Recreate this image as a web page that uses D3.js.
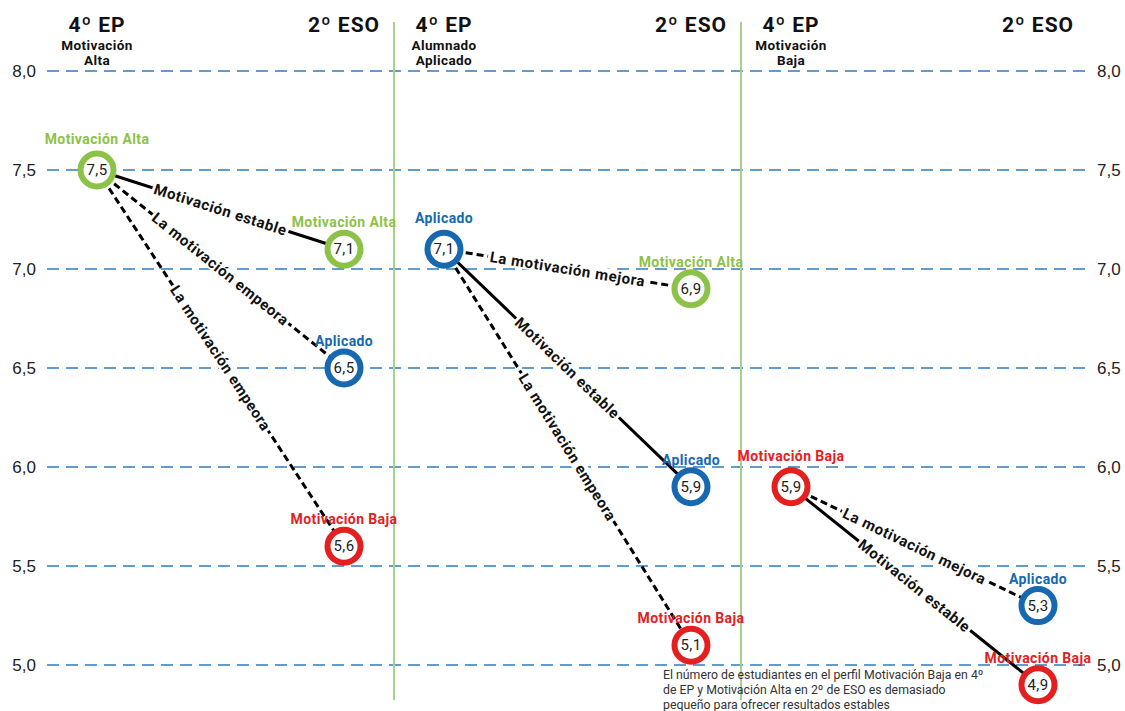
<!DOCTYPE html>
<html lang="es">
<head>
<meta charset="utf-8">
<script src="https://d3js.org/d3.v7.min.js"></script>
<style type="text/css">
body {
	margin: 0;
	background-color: #ffffff;
	font-family: Roboto, "Noto Sans", sans-serif;
}
.axis text {
	font-size: 17px;
	fill: #222;
}
.axis path, .axis line {
	display: none;
}
</style>
</head>
<body>
<script type="text/javascript">

// --- data ---
var stages = ["4º EP", "2º ESO"];
var panelTitles = [["Motivación", "Alta"], ["Alumnado", "Aplicado"], ["Motivación", "Baja"]];
var startProfiles = ["Motivación Alta", "Aplicado", "Motivación Baja"];
var startValues = [7.5, 7.1, 5.9];

var flowPanel = [0, 0, 0, 1, 1, 1, 2, 2];
var flowTo = ["Motivación Alta", "Aplicado", "Motivación Baja",
              "Motivación Alta", "Aplicado", "Motivación Baja",
              "Aplicado", "Motivación Baja"];
var flowValue = [7.1, 6.5, 5.6, 6.9, 5.9, 5.1, 5.3, 4.9];
var flowLabel = ["Motivación estable", "La motivación empeora", "La motivación empeora",
                 "La motivación mejora", "Motivación estable", "La motivación empeora",
                 "La motivación mejora", "Motivación estable"];
var flowStable = [true, false, false, false, true, false, false, true];

var yTicks = [5.0, 5.5, 6.0, 6.5, 7.0, 7.5, 8.0];

var footnote = ["El número de estudiantes en el perfil Motivación Baja en 4º",
                "de EP y Motivación Alta en 2º de ESO es demasiado",
                "pequeño para ofrecer resultados estables"];

var profileColor = {
	"Motivación Alta": "#8dc249",
	"Aplicado": "#1668b1",
	"Motivación Baja": "#e3201f"
};

var width = 1125, height = 711;

var svg = d3.select("body").append("svg")
	.attr("width", width)
	.attr("height", height);

// scales
var y = d3.scaleLinear().domain([5, 8]).range([665, 71]);
var panel = d3.scaleBand().domain([0, 1, 2]).range([47, 1088]);
var stage = d3.scalePoint().domain(stages).range([50, 297]);

function px(p, s) { return panel(p) + stage(s); }
var fmt = function(d) { return d3.format(".1f")(d).replace(".", ","); };

// gridlines
svg.append("g").selectAll("line")
	.data(yTicks)
	.enter().append("line")
	.attr("x1", 47).attr("x2", 1086)
	.attr("y1", d => y(d)).attr("y2", d => y(d))
	.style("stroke", "#2f7bbf")
	.style("stroke-width", 1.5)
	.style("stroke-dasharray", "12,7");

// axes
svg.append("g").attr("class", "axis")
	.attr("transform", "translate(40,0)")
	.call(d3.axisLeft(y).tickValues(yTicks).tickSize(0).tickPadding(4).tickFormat(fmt))
	.selectAll("text").attr("dy", "0.35em");
svg.append("g").attr("class", "axis")
	.attr("transform", "translate(1093,0)")
	.call(d3.axisRight(y).tickValues(yTicks).tickSize(0).tickPadding(4).tickFormat(fmt))
	.selectAll("text").attr("dy", "0.35em");

// panel dividers
svg.append("g").selectAll("line")
	.data([1, 2])
	.enter().append("line")
	.attr("x1", d => panel(d)).attr("x2", d => panel(d))
	.attr("y1", 22).attr("y2", 700)
	.style("stroke", "#a9d18e")
	.style("stroke-width", 2);

// headers
[0, 1, 2].forEach(function(p) {
	stages.forEach(function(s) {
		svg.append("text")
			.attr("x", px(p, s)).attr("y", 32)
			.attr("text-anchor", "middle")
			.style("font-size", "21px").style("font-weight", "bold")
			.style("letter-spacing", "1px")
			.style("fill", "#111")
			.text(s);
	});
	panelTitles[p].forEach(function(t, i) {
		svg.append("text")
			.attr("x", px(p, stages[0])).attr("y", 50 + i * 15)
			.attr("text-anchor", "middle")
			.style("font-size", "13.5px").style("font-weight", "bold")
			.style("letter-spacing", "0.4px")
			.style("fill", "#111")
			.text(t);
	});
});

// connections
var flows = flowValue.map(function(v, i) {
	return {p: flowPanel[i], to: flowTo[i], v: v, label: flowLabel[i], stable: flowStable[i]};
});

var links = svg.append("g");
flows.forEach(function(f) {
	var x1 = px(f.p, stages[0]), y1 = y(startValues[f.p]);
	var x2 = px(f.p, stages[1]), y2 = y(f.v);
	links.append("line")
		.attr("x1", x1).attr("y1", y1).attr("x2", x2).attr("y2", y2)
		.style("stroke", "#000")
		.style("stroke-width", 3)
		.style("stroke-dasharray", f.stable ? null : "7,4");

	var ang = Math.atan2(y2 - y1, x2 - x1) * 180 / Math.PI;
	var g = links.append("g")
		.attr("transform", "translate(" + ((x1 + x2) / 2) + "," + ((y1 + y2) / 2) + ") rotate(" + ang + ")");
	var bg = g.append("rect").style("fill", "#fff");
	var t = g.append("text")
		.attr("text-anchor", "middle")
		.attr("dy", "0.35em")
		.style("font-size", "15px").style("font-weight", "bold")
		.style("letter-spacing", "0.6px")
		.style("fill", "#111")
		.text(f.label);
	var len = t.node().getComputedTextLength();
	bg.attr("x", -len / 2 - 2).attr("y", -7).attr("width", len + 4).attr("height", 14);
});

// nodes
var nodes = [];
startProfiles.forEach(function(prof, p) {
	nodes.push({x: px(p, stages[0]), v: startValues[p], prof: prof, start: true});
});
flows.forEach(function(f) {
	nodes.push({x: px(f.p, stages[1]), v: f.v, prof: f.to, start: false});
});

var node = svg.append("g").selectAll("g")
	.data(nodes)
	.enter().append("g")
	.attr("transform", d => "translate(" + d.x + "," + y(d.v) + ")");

node.append("circle")
	.attr("r", 16.5)
	.style("fill", "#fff")
	.style("stroke", d => profileColor[d.prof])
	.style("stroke-width", 6);

node.append("text")
	.attr("text-anchor", "middle")
	.attr("dy", "0.35em")
	.style("font-size", "15px")
	.style("letter-spacing", "0.4px")
	.style("fill", "#222")
	.text(d => fmt(d.v));

node.append("text")
	.attr("text-anchor", "middle")
	.attr("y", d => d.start ? -26 : -22)
	.style("font-size", "14px").style("font-weight", "bold")
	.style("letter-spacing", "0.4px")
	.style("fill", d => profileColor[d.prof])
	.text(d => d.prof);

// footnote
svg.append("g").selectAll("text")
	.data(footnote)
	.enter().append("text")
	.attr("x", 663).attr("y", (d, i) => 679 + i * 15)
	.style("font-size", "12.3px")
	.style("fill", "#333")
	.text(d => d);

</script>
</body>
</html>
